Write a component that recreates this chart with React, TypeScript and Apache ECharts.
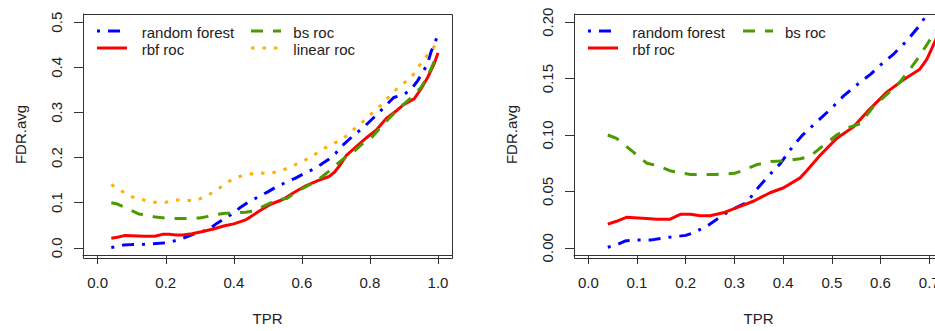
import React, { useEffect, useRef } from "react";
import * as echarts from "echarts";

// ---- data (TPR, FDR.avg) ----
const randomForest: number[][] = [
  [0.04, 0.0005], [0.06, 0.003], [0.075, 0.006], [0.1, 0.007], [0.13, 0.007], [0.16, 0.009],
  [0.2, 0.011], [0.22, 0.014], [0.25, 0.021], [0.28, 0.03], [0.3, 0.035], [0.325, 0.04],
  [0.35, 0.054], [0.375, 0.066], [0.395, 0.075], [0.42, 0.09], [0.44, 0.1], [0.47, 0.112],
  [0.5, 0.124], [0.525, 0.135], [0.55, 0.144], [0.58, 0.154], [0.605, 0.164], [0.625, 0.171],
  [0.655, 0.184], [0.68, 0.197], [0.7, 0.21], [0.71, 0.22], [0.75, 0.248], [0.78, 0.266],
  [0.82, 0.295], [0.85, 0.318], [0.87, 0.333], [0.9, 0.34], [0.92, 0.35], [0.94, 0.37],
  [0.96, 0.395], [0.97, 0.41], [0.98, 0.435], [1.0, 0.472],
];
const rbfRoc: number[][] = [
  [0.04, 0.021], [0.058, 0.0235], [0.078, 0.027], [0.12, 0.026], [0.14, 0.0254], [0.168, 0.0254],
  [0.19, 0.0298], [0.21, 0.0298], [0.23, 0.0284], [0.25, 0.0284], [0.277, 0.031], [0.305, 0.0356],
  [0.34, 0.0415], [0.373, 0.0488], [0.4, 0.053], [0.435, 0.062], [0.448, 0.068], [0.476, 0.082],
  [0.51, 0.097], [0.544, 0.107], [0.578, 0.123], [0.613, 0.138], [0.647, 0.149], [0.68, 0.158],
  [0.695, 0.167], [0.712, 0.183], [0.73, 0.204], [0.76, 0.224], [0.79, 0.244], [0.82, 0.262],
  [0.85, 0.288], [0.88, 0.305], [0.9, 0.318], [0.93, 0.33], [0.95, 0.352], [0.97, 0.378],
  [0.99, 0.41], [1.0, 0.432],
];
const bsRoc: number[][] = [
  [0.04, 0.1], [0.058, 0.097], [0.075, 0.091], [0.092, 0.085], [0.12, 0.075], [0.14, 0.073],
  [0.17, 0.068], [0.21, 0.065], [0.26, 0.065], [0.3, 0.066], [0.32, 0.069], [0.345, 0.0736],
  [0.375, 0.0765], [0.4, 0.077], [0.435, 0.079], [0.455, 0.081], [0.475, 0.088], [0.51, 0.1],
  [0.537, 0.107], [0.558, 0.11], [0.585, 0.125], [0.613, 0.136], [0.64, 0.147], [0.66, 0.158],
  [0.68, 0.17], [0.71, 0.19], [0.72, 0.196], [0.75, 0.212], [0.78, 0.232], [0.8, 0.24],
  [0.83, 0.266], [0.86, 0.29], [0.89, 0.312], [0.92, 0.332], [0.95, 0.355], [0.97, 0.38],
  [0.99, 0.415], [1.0, 0.43],
];
const linearRoc: number[][] = [
  [0.04, 0.14], [0.07, 0.126], [0.1, 0.113], [0.13, 0.107], [0.16, 0.101], [0.2, 0.101],
  [0.23, 0.106], [0.26, 0.105], [0.29, 0.105], [0.32, 0.115], [0.35, 0.128], [0.38, 0.145],
  [0.41, 0.157], [0.44, 0.162], [0.47, 0.167], [0.5, 0.164], [0.54, 0.171], [0.57, 0.181],
  [0.6, 0.19], [0.63, 0.203], [0.66, 0.218], [0.69, 0.23], [0.72, 0.241], [0.75, 0.261],
  [0.78, 0.28], [0.81, 0.301], [0.84, 0.321], [0.86, 0.339], [0.89, 0.36], [0.92, 0.376],
  [0.94, 0.398], [0.96, 0.42], [0.98, 0.436], [1.0, 0.458],
];

const leftXTicks = [0, 0.2, 0.4, 0.6, 0.8, 1.0];
const leftYTicks = [0, 0.1, 0.2, 0.3, 0.4, 0.5];
const rightXTicks = [0, 0.1, 0.2, 0.3, 0.4, 0.5, 0.6, 0.7];
const rightYTicks = [0, 0.05, 0.1, 0.15, 0.2];

const seriesNames = ["random forest", "rbf roc", "bs roc", "linear roc"];
const colors = ["#0000ff", "#ff0000", "#4c9900", "#ffb000"];
const dashes: number[][] = [[3, 8, 12, 8], [], [12, 10], [3.5, 8]];

const FONT = "'Liberation Sans', Arial, Helvetica, sans-serif";
const INK = "#222";
const FRAME = "#333";

function makeAxis(
  gridIndex: number, min: number, max: number, ticks: number[], digits: number, isY: boolean
) {
  return {
    type: "value",
    gridIndex,
    min,
    max,
    name: isY ? "FDR.avg" : "TPR",
    nameLocation: "middle",
    nameGap: isY ? 55 : 56,
    nameTextStyle: { fontSize: 15, fontFamily: FONT, color: INK },
    axisLine: { show: true, onZero: false, lineStyle: { color: FRAME, width: 1 } },
    axisTick: { show: true, length: 9, customValues: ticks, lineStyle: { color: FRAME, width: 1 } },
    axisLabel: {
      customValues: ticks,
      formatter: (v: number) => v.toFixed(digits),
      fontSize: 15,
      fontFamily: FONT,
      color: INK,
      margin: isY ? 19 : 20,
      rotate: isY ? 90 : 0,
      hideOverlap: false,
    },
    splitLine: { show: false },
  };
}

function lineSeries(name: string, data: number[][], idx: number, axisIndex: number) {
  return {
    type: "line",
    name,
    data,
    xAxisIndex: axisIndex,
    yAxisIndex: axisIndex,
    symbol: "none",
    clip: true,
    lineStyle: {
      color: colors[idx],
      width: 3,
      type: dashes[idx].length ? dashes[idx] : "solid",
    },
  };
}

function legendItems(
  x0: number, names: string[], idxs: number[], colX: number[], textX: number[], rows: number[]
) {
  const items: any[] = [];
  names.forEach((n, k) => {
    const col = Math.floor(k / 2);
    const row = k % 2;
    const i = idxs[k];
    items.push({
      type: "line",
      shape: { x1: x0 + colX[col], y1: rows[row], x2: x0 + colX[col] + 30, y2: rows[row] },
      style: {
        stroke: colors[i],
        lineWidth: 3,
        lineDash: dashes[i].length ? dashes[i] : null,
      },
      z: 20,
    });
    items.push({
      type: "text",
      x: x0 + textX[col],
      y: rows[row] + 1.5,
      style: {
        text: n,
        fontSize: 15,
        fontFamily: FONT,
        fill: INK,
        align: "left",
        verticalAlign: "middle",
        textAlign: "left",
        textVerticalAlign: "middle",
      },
      z: 20,
    });
  });
  return items;
}

export default function App() {
  const ref = useRef<HTMLDivElement>(null);
  useEffect(() => {
    if (!ref.current) return;
    const chart = echarts.init(ref.current, undefined, { renderer: "svg" });
    const lgLeft = { x: 83, y: 14, w: 369, h: 244 };
    const lgRight = { x: 574, y: 14, w: 369, h: 244 };
    chart.setOption({
      animation: false,
      backgroundColor: "#ffffff",
      grid: [
        { left: lgLeft.x, top: lgLeft.y, width: lgLeft.w, height: lgLeft.h, containLabel: false },
        { left: lgRight.x, top: lgRight.y, width: lgRight.w, height: lgRight.h, containLabel: false },
      ],
      xAxis: [
        makeAxis(0, -0.0432, 1.0412, leftXTicks, 1, false),
        makeAxis(1, -0.0294, 0.7283, rightXTicks, 1, false),
      ],
      yAxis: [
        makeAxis(0, -0.016, 0.5182, leftYTicks, 1, true),
        makeAxis(1, -0.0064, 0.2073, rightYTicks, 2, true),
      ],
      series: [
        lineSeries(seriesNames[0], randomForest, 0, 0),
        lineSeries(seriesNames[1], rbfRoc, 1, 0),
        lineSeries(seriesNames[2], bsRoc, 2, 0),
        lineSeries(seriesNames[3], linearRoc, 3, 0),
        lineSeries(seriesNames[0], randomForest, 0, 1),
        lineSeries(seriesNames[1], rbfRoc, 1, 1),
        lineSeries(seriesNames[2], bsRoc, 2, 1),
      ],
      graphic: [
        {
          type: "rect",
          shape: { x: lgLeft.x + 0.5, y: lgLeft.y + 0.5, width: lgLeft.w, height: lgLeft.h },
          style: { fill: "none", stroke: FRAME, lineWidth: 1 },
          z: 30,
        },
        {
          type: "rect",
          shape: { x: lgRight.x + 0.5, y: lgRight.y + 0.5, width: lgRight.w, height: lgRight.h },
          style: { fill: "none", stroke: FRAME, lineWidth: 1 },
          z: 30,
        },
        ...legendItems(lgLeft.x, seriesNames, [0, 1, 2, 3], [14, 168], [58.7, 210.3], [31, 48]),
        ...legendItems(lgRight.x, seriesNames.slice(0, 3), [0, 1, 2], [14, 169], [58.3, 211], [31, 48]),
      ],
    });
    return () => chart.dispose();
  }, []);
  return (
    <div
      style={{
        position: "absolute",
        left: 0,
        top: 0,
        width: 935,
        height: 331,
        overflow: "hidden",
        background: "#fff",
      }}
    >
      <div ref={ref} style={{ width: 960, height: 331 }} />
    </div>
  );
}
